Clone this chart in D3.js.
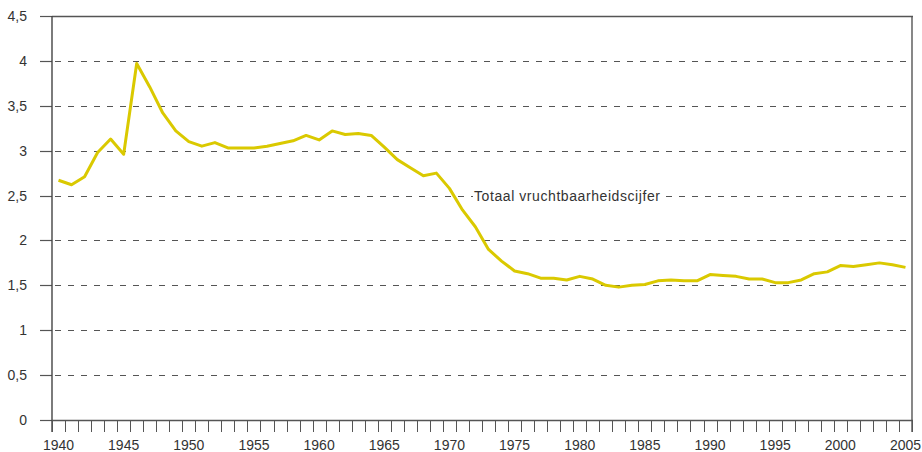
<!DOCTYPE html>
<html>
<head>
<meta charset="utf-8">
<script src="https://cdn.jsdelivr.net/npm/d3@7"></script>
<style>
  body { margin: 0; background: #fff; }
  text { font-family: "Liberation Sans", Arial, sans-serif; fill: #333; }
</style>
</head>
<body>
<div id="chart"></div>
<script>
// years and total fertility rate
var years = d3.range(1940, 2006);
var tfr = [2.67, 2.62, 2.71, 2.98, 3.13, 2.96, 3.97, 3.71, 3.42, 3.22,
           3.10, 3.05, 3.09, 3.03, 3.03, 3.03, 3.05, 3.08, 3.11, 3.17,
           3.12, 3.22, 3.18, 3.19, 3.17, 3.04, 2.90, 2.81, 2.72, 2.75,
           2.58, 2.34, 2.15, 1.90, 1.77, 1.66, 1.63, 1.58, 1.58, 1.56,
           1.60, 1.57, 1.50, 1.48, 1.50, 1.51, 1.55, 1.56, 1.55, 1.55,
           1.62, 1.61, 1.60, 1.57, 1.57, 1.53, 1.53, 1.56, 1.63, 1.65,
           1.72, 1.71, 1.73, 1.75, 1.73, 1.70];
var yTicks = [0, 0.5, 1, 1.5, 2, 2.5, 3, 3.5, 4, 4.5];
var seriesLabel = "Totaal vruchtbaarheidscijfer";

var width = 922, height = 452;
var plotLeft = 52, plotRight = 912, plotTop = 16, plotBottom = 420;

var svg = d3.select("#chart").append("svg")
    .attr("width", width)
    .attr("height", height);

var x = d3.scaleBand()
    .domain(years)
    .range([plotLeft, plotRight])
    .padding(0);

var y = d3.scaleLinear()
    .domain([0, 4.5])
    .range([plotBottom, plotTop]);

var fmt = function(d){ return String(d).replace(".", ","); };

// horizontal gridlines (dashed inside, solid stub left of axis)
yTicks.forEach(function(t){
    var py = Math.round(y(t)) + 0.5;
    svg.append("line")
        .attr("x1", 40).attr("x2", plotLeft)
        .attr("y1", py).attr("y2", py)
        .attr("stroke", "#555").attr("stroke-width", 1.2);
    if (t > 0 && t < 4.5) {
        svg.append("line")
            .attr("x1", plotLeft).attr("x2", plotRight)
            .attr("y1", py).attr("y2", py)
            .attr("stroke", "#555").attr("stroke-width", 1.2)
            .attr("stroke-dasharray", "6,7")
            .attr("stroke-dashoffset", -3);
    }
    svg.append("text")
        .attr("x", 27).attr("y", py)
        .attr("dy", "0.35em")
        .attr("text-anchor", "end")
        .attr("font-size", 14)
        .text(fmt(t));
});

// frame: top, bottom, left, right
svg.append("line").attr("x1", plotLeft).attr("x2", plotRight + 1)
    .attr("y1", Math.round(y(4.5)) + 0.5).attr("y2", Math.round(y(4.5)) + 0.5)
    .attr("stroke", "#555").attr("stroke-width", 1.4);
svg.append("line").attr("x1", plotLeft).attr("x2", plotRight + 1)
    .attr("y1", Math.round(y(0)) + 0.5).attr("y2", Math.round(y(0)) + 0.5)
    .attr("stroke", "#555").attr("stroke-width", 1.4);
svg.append("line").attr("x1", plotLeft).attr("x2", plotLeft)
    .attr("y1", plotTop).attr("y2", plotBottom + 12)
    .attr("stroke", "#444").attr("stroke-width", 1.4);
svg.append("line").attr("x1", plotRight).attr("x2", plotRight)
    .attr("y1", plotTop).attr("y2", plotBottom + 12)
    .attr("stroke", "#555").attr("stroke-width", 1.4);

// year ticks at band edges
var edges = years.map(function(d){ return x(d); }).concat([plotRight]);
svg.selectAll(".xtick")
    .data(edges)
    .enter()
    .append("line")
    .attr("class", "xtick")
    .attr("x1", function(d){ return Math.round(d) + 0.5; })
    .attr("x2", function(d){ return Math.round(d) + 0.5; })
    .attr("y1", plotBottom).attr("y2", plotBottom + 12)
    .attr("stroke", "#555").attr("stroke-width", 1);

// year labels every 5 years at band centre
svg.selectAll(".xlabel")
    .data(years.filter(function(d){ return d % 5 == 0; }))
    .enter()
    .append("text")
    .attr("class", "xlabel")
    .attr("x", function(d){ return x(d) + x.bandwidth() / 2; })
    .attr("y", 450)
    .attr("text-anchor", "middle")
    .attr("font-size", 14)
    .text(function(d){ return d; });

// series label with white box over gridline
var lbl = svg.append("g").attr("transform", "translate(474,201)");
lbl.append("rect")
    .attr("x", -1).attr("y", -13)
    .attr("width", 188).attr("height", 17)
    .attr("fill", "#fff");
lbl.append("text")
    .attr("font-size", 14)
    .attr("textLength", 186)
    .text(seriesLabel);

// the line
var line = d3.line()
    .x(function(d, i){ return x(years[i]) + x.bandwidth() / 2; })
    .y(function(d){ return y(d); });

svg.append("path")
    .datum(tfr)
    .attr("d", line)
    .attr("fill", "none")
    .attr("stroke", "#dac900")
    .attr("stroke-width", 3)
    .attr("stroke-linejoin", "round");
</script>
</body>
</html>
